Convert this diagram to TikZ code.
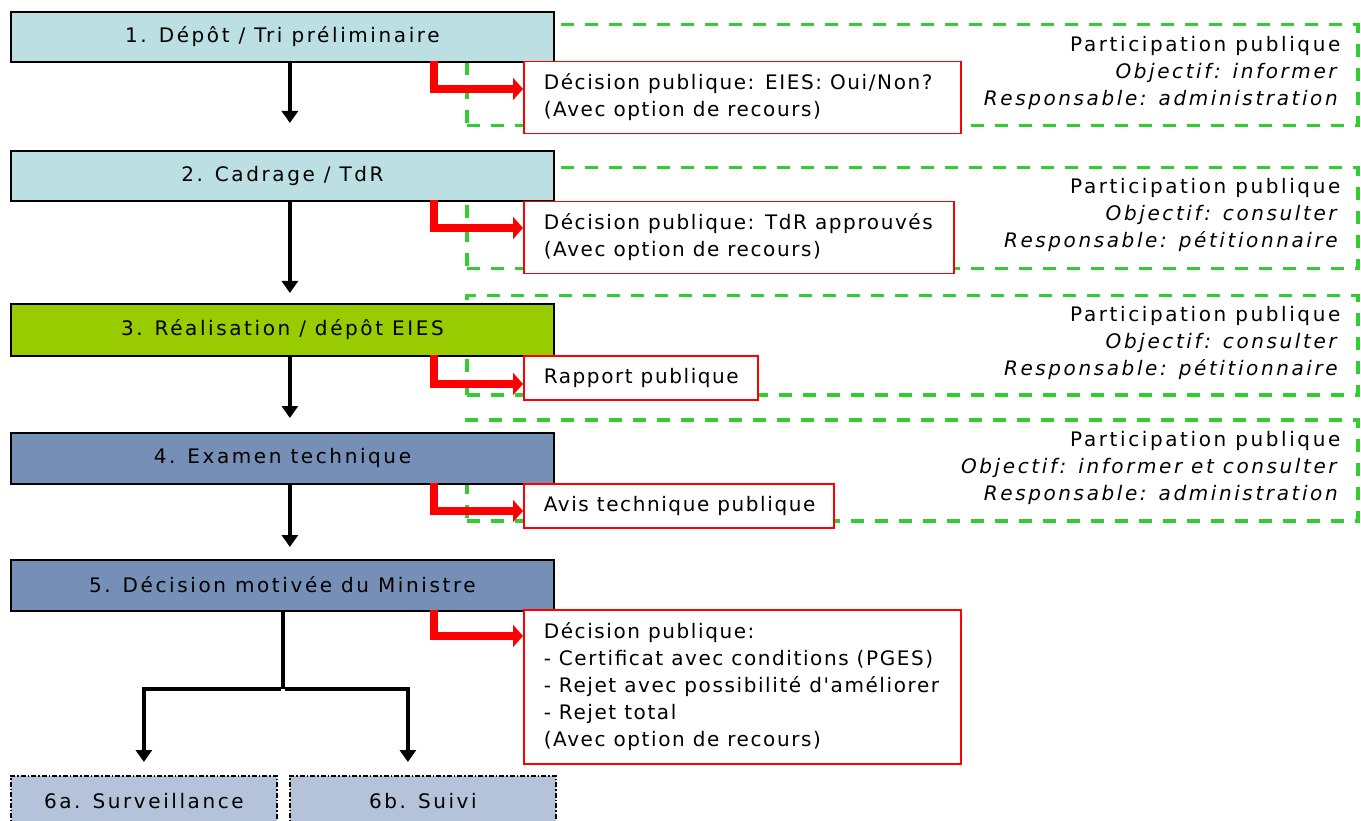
\documentclass[tikz,border=0pt]{standalone}
\usepackage{fontspec}
\setmainfont{DejaVu Sans}[LetterSpace=13]
\newfontfamily\redfont{DejaVu Sans}[LetterSpace=8]
\usetikzlibrary{arrows.meta,shadows}
\definecolor{tealA}{RGB}{187,223,227}
\definecolor{limeA}{RGB}{153,204,0}
\definecolor{slateA}{RGB}{118,143,183}
\definecolor{grnA}{RGB}{51,204,51}
\definecolor{checkA}{RGB}{180,195,217}
\begin{document}
\begin{tikzpicture}[x=1pt,y=-1pt,
  mainbox/.style={draw=black, line width=1.8pt, anchor=north west, minimum width=543pt,
    minimum height=50pt, inner sep=0pt, font=\fontsize{20}{24}\selectfont,
    general shadow={fill=black, shadow xshift=1.5pt, shadow yshift=-1.5pt}},
  subbox/.style={draw=black, line width=1.8pt, dash pattern=on 5pt off 2pt on 1.5pt off 2pt,
    fill=checkA, anchor=north west, minimum width=266pt, minimum height=50pt, inner sep=0pt,
    font=\fontsize{20}{24}\selectfont},
  redbox/.style={draw=red, line width=1.5pt, fill=white, anchor=north west, inner xsep=20pt,
    inner ysep=0pt, font=\redfont\fontsize{20}{27}\selectfont},
  greenbox/.style={draw=grnA, line width=3.5pt, dash pattern=on 13pt off 11pt, anchor=north west,
    minimum width=891pt, minimum height=101pt, inner sep=0pt},
  greentext/.style={anchor=east, align=right, inner sep=0pt, font=\fontsize{20}{27}\selectfont},
  blackarr/.style={draw=black, line width=3.5pt, -{Triangle[length=12pt,width=16pt]}},
  blackline/.style={draw=black, line width=3.5pt},
  redconn/.style={draw=red, line width=8pt, -{Triangle[length=10pt,width=22pt]}}
]
\useasboundingbox (0,0) rectangle (1361,821);
\clip (0,0) rectangle (1361,821);

% green dashed participation boxes
\node[greenbox] (g1) at (465,23) {};
\node[greenbox] (g2) at (465,166) {};
\node[greenbox, minimum height=99pt] (g3) at (465,294) {};
\node[greenbox] (g4) at (465,418) {};

\node[greentext] (g1t) at ([xshift=-19pt,yshift=2.5pt]g1.east)
  {Participation publique\\\textit{Objectif: informer}\\\textit{Responsable: administration}};
\node[greentext] (g2t) at ([xshift=-19pt,yshift=3pt]g2.east)
  {Participation publique\\\textit{Objectif: consulter}\\\textit{Responsable: pétitionnaire}};
\node[greentext] (g3t) at ([xshift=-19pt,yshift=2pt]g3.east)
  {Participation publique\\\textit{Objectif: consulter}\\\textit{Responsable: pétitionnaire}};
\node[greentext] (g4t) at ([xshift=-19pt,yshift=2pt]g4.east)
  {Participation publique\\\textit{Objectif: informer et consulter}\\\textit{Responsable: administration}};

% main process boxes
\node[mainbox, fill=tealA] (b1) at (10,11) {\raisebox{2pt}{1. Dépôt / Tri préliminaire}};
\node[mainbox, fill=tealA] (b2) at (10,150) {\raisebox{2pt}{2. Cadrage / TdR}};
\node[mainbox, fill=limeA, minimum height=52pt] (b3) at (10,303) {\raisebox{2pt}{3. Réalisation / dépôt EIES}};
\node[mainbox, fill=slateA, minimum height=51pt] (b4) at (10,432) {\raisebox{2pt}{4. Examen technique}};
\node[mainbox, fill=slateA, minimum height=51pt] (b5) at (10,559) {\raisebox{2pt}{5. Décision motivée du Ministre}};
\node[subbox] (b6a) at (10,775) {6a. Surveillance};
\node[subbox] (b6b) at (289,775) {6b. Suivi};

% red public decision boxes
\node[redbox, minimum height=72pt] (r1) at (523,61)
  {\makebox[397pt][l]{\begin{tabular}{@{}l@{}}Décision publique: EIES: Oui/Non?\\(Avec option de recours)\end{tabular}}};
\node[redbox, minimum height=72pt] (r2) at (523,201)
  {\makebox[390pt][l]{\begin{tabular}{@{}l@{}}Décision publique: TdR approuvés\\(Avec option de recours)\end{tabular}}};
\node[redbox, minimum height=44pt] (r3) at (523,355)
  {\makebox[194pt][l]{Rapport publique}};
\node[redbox, minimum height=44pt] (r4) at (523,483)
  {\makebox[270pt][l]{Avis technique publique}};
\node[redbox, minimum height=154pt] (r5) at (523,609)
  {\makebox[397pt][l]{\begin{tabular}{@{}l@{}}Décision publique:\\- Certificat avec conditions (PGES)\\- Rejet avec possibilité d'améliorer\\- Rejet total\\(Avec option de recours)\end{tabular}}};

% black flow arrows
\draw[blackarr, shorten >=27pt] ([xshift=7.5pt]b1.south) -- ([xshift=7.5pt]b2.north);
\draw[blackarr, shorten >=10pt] ([xshift=7.5pt]b2.south) -- ([xshift=7.5pt]b3.north);
\draw[blackarr, shorten >=14pt] ([xshift=7.5pt]b3.south) -- ([xshift=7.5pt]b4.north);
\draw[blackarr, shorten >=12pt] ([xshift=7.5pt]b4.south) -- ([xshift=7.5pt]b5.north);
\draw[blackline] ([xshift=0.5pt]b5.south) -- ++(0,77) coordinate (split);
\draw[blackarr, shorten >=13pt] ([xshift=-1.75pt]split) -| (b6a.north);
\draw[blackarr, shorten >=13pt] ([xshift=1.75pt]split) -| ([xshift=-15pt]b6b.north);

% red connectors
\draw[redconn] ([xshift=151.5pt,yshift=2pt]b1.south) |- ([yshift=-28pt]r1.north west);
\draw[redconn] ([xshift=151.5pt,yshift=2pt]b2.south) |- ([yshift=-27pt]r2.north west);
\draw[redconn] ([xshift=151.5pt,yshift=2pt]b3.south) |- ([yshift=-29pt]r3.north west);
\draw[redconn] ([xshift=151.5pt,yshift=2pt]b4.south) |- ([yshift=-28pt]r4.north west);
\draw[redconn] ([xshift=151.5pt,yshift=2pt]b5.south) |- ([yshift=-27pt]r5.north west);
\end{tikzpicture}
\end{document}
